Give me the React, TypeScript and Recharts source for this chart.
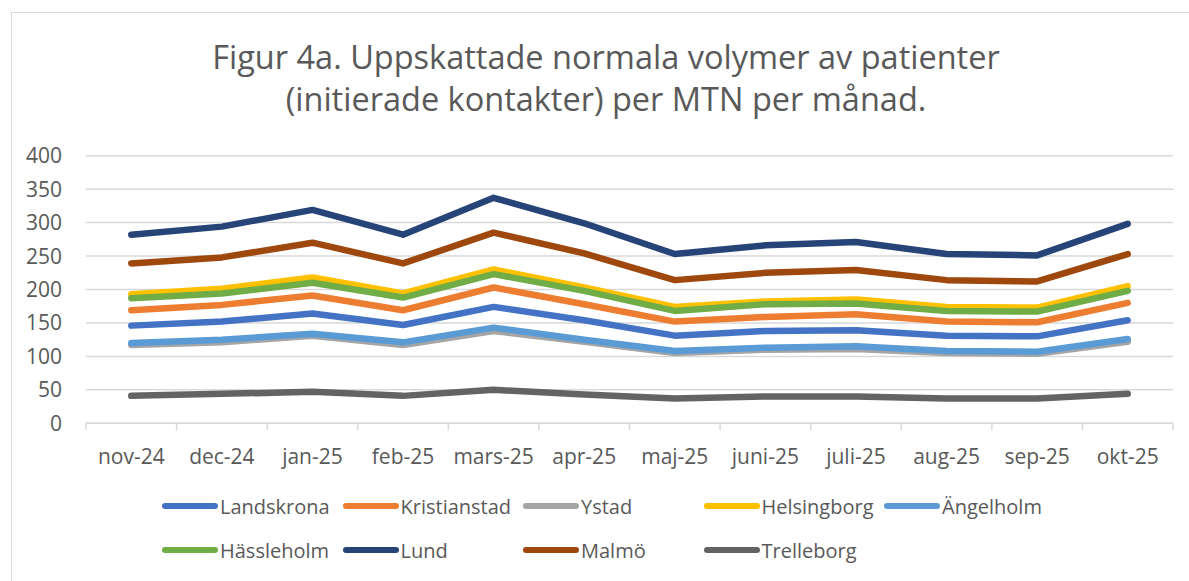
import { LineChart, Line, XAxis, YAxis, CartesianGrid, Legend } from 'recharts';

const months = ['nov-24', 'dec-24', 'jan-25', 'feb-25', 'mars-25', 'apr-25', 'maj-25', 'juni-25', 'juli-25', 'aug-25', 'sep-25', 'okt-25'];

const landskrona = [146, 152, 164, 147, 174, 154, 131, 138, 139, 131, 130, 154];
const kristianstad = [169, 177, 191, 169, 203, 178, 152, 159, 163, 152, 151, 180];
const ystad = [117, 121, 131, 117, 138, 122, 105, 110, 111, 105, 104, 122];
const helsingborg = [193, 201, 218, 194, 230, 203, 174, 182, 185, 174, 173, 205];
const angelholm = [120, 125, 134, 121, 143, 125, 108, 113, 115, 108, 107, 126];
const hassleholm = [187, 194, 210, 188, 223, 198, 168, 178, 179, 168, 167, 198];
const lund = [282, 294, 319, 282, 337, 299, 253, 266, 271, 253, 251, 298];
const malmo = [239, 248, 270, 239, 285, 254, 214, 225, 229, 214, 212, 253];
const trelleborg = [41, 44, 47, 41, 50, 43, 37, 40, 40, 37, 37, 44];

const yTicks = [0, 50, 100, 150, 200, 250, 300, 350, 400];

const series = [
  { name: 'Landskrona', values: landskrona, color: '#4472C4' },
  { name: 'Kristianstad', values: kristianstad, color: '#ED7D31' },
  { name: 'Ystad', values: ystad, color: '#A5A5A5' },
  { name: 'Helsingborg', values: helsingborg, color: '#FFC000' },
  { name: 'Ängelholm', values: angelholm, color: '#5B9BD5' },
  { name: 'Hässleholm', values: hassleholm, color: '#70AD47' },
  { name: 'Lund', values: lund, color: '#264478' },
  { name: 'Malmö', values: malmo, color: '#9E480E' },
  { name: 'Trelleborg', values: trelleborg, color: '#636363' },
];
const seriesNames = series.map(s => s.name);

const data = months.map((m, i) => {
  const row: Record<string, string | number> = { month: m };
  series.forEach(s => { row[s.name] = s.values[i]; });
  return row;
});

const FONT = '"Open Sans", "Liberation Sans", sans-serif';
const TEXT = '#595959';
const GRID = '#d9d9d9';

const W = 1189;
const H = 581;
const PLOT_LEFT = 86;
const PLOT_RIGHT = 1173;
const BAND = (PLOT_RIGHT - PLOT_LEFT) / months.length;

// tick marks sit between categories, like Excel
function MonthTick(props: any) {
  const { x, y, payload, index } = props;
  const last = index === months.length - 1;
  return (
    <g>
      <line x1={x - BAND / 2} x2={x - BAND / 2} y1={y - 7} y2={y} stroke={GRID} strokeWidth={1.5} />
      {last && <line x1={x + BAND / 2} x2={x + BAND / 2} y1={y - 7} y2={y} stroke={GRID} strokeWidth={1.5} />}
      <text x={x} y={y + 34} textAnchor="middle" fill={TEXT} fontSize={21} fontFamily={FONT}>
        {payload.value}
      </text>
    </g>
  );
}

function LegendContent(props: any) {
  const items = [...(props.payload || [])].sort(
    (a: any, b: any) => seriesNames.indexOf(a.value) - seriesNames.indexOf(b.value)
  );
  return (
    <div style={{ display: 'flex', flexWrap: 'wrap', width: 905 }}>
      {items.map((p: any) => (
        <div key={p.value} style={{ width: 180.5, height: 44, display: 'flex', alignItems: 'center' }}>
          <svg width={58} height={10} style={{ flex: 'none' }}>
            <line x1={4} x2={54} y1={5} y2={5} stroke={p.color} strokeWidth={6} strokeLinecap="round" />
          </svg>
          <span style={{ fontFamily: FONT, fontSize: 20, color: TEXT, whiteSpace: 'nowrap', marginLeft: 1 }}>{p.value}</span>
        </div>
      ))}
    </div>
  );
}

export default function App() {
  return (
    <div style={{ position: 'fixed', left: 0, top: 0, width: W, height: H, overflow: 'hidden', background: '#fff' }}>
      <div style={{ position: 'absolute', left: 11, top: 12, width: W + 20, height: H + 20, border: `1px solid ${GRID}` }} />
      <div
        style={{
          position: 'absolute',
          left: 0,
          width: 1212,
          top: 36,
          textAlign: 'center',
          fontFamily: FONT,
          fontSize: 32.5,
          lineHeight: '42px',
          color: TEXT,
        }}
      >
        Figur 4a. Uppskattade normala volymer av patienter
        <br />
        (initierade kontakter) per MTN per månad.
      </div>
      <div style={{ position: 'absolute', left: 0, top: 0 }}>
        <LineChart width={W} height={H} data={data} margin={{ top: 155.7, right: W - PLOT_RIGHT, left: PLOT_LEFT - 60, bottom: 127.7 }}>
          <CartesianGrid vertical={false} stroke={GRID} strokeWidth={1.5} />
          <XAxis
            dataKey="month"
            interval={0}
            height={30}
            padding={{ left: BAND / 2, right: BAND / 2 }}
            tickLine={false}
            tickSize={7}
            tickMargin={0}
            axisLine={{ stroke: GRID, strokeWidth: 1.5 }}
            tick={<MonthTick />}
          />
          <YAxis
            width={60}
            domain={[0, 400]}
            ticks={yTicks}
            axisLine={false}
            tickLine={false}
            tickSize={0}
            tickMargin={24}
            tick={{ fill: TEXT, fontSize: 21, fontFamily: FONT }}
          />
          <Legend
            layout="horizontal"
            verticalAlign="middle"
            align="center"
            content={<LegendContent />}
            wrapperStyle={{ top: 484, left: 161, width: 905 }}
          />
          {series.map(s => (
            <Line
              key={s.name}
              type="linear"
              dataKey={s.name}
              name={s.name}
              stroke={s.color}
              strokeWidth={6.5}
              strokeLinecap="round"
              strokeLinejoin="round"
              dot={false}
              activeDot={false}
              isAnimationActive={false}
            />
          ))}
        </LineChart>
      </div>
    </div>
  );
}
